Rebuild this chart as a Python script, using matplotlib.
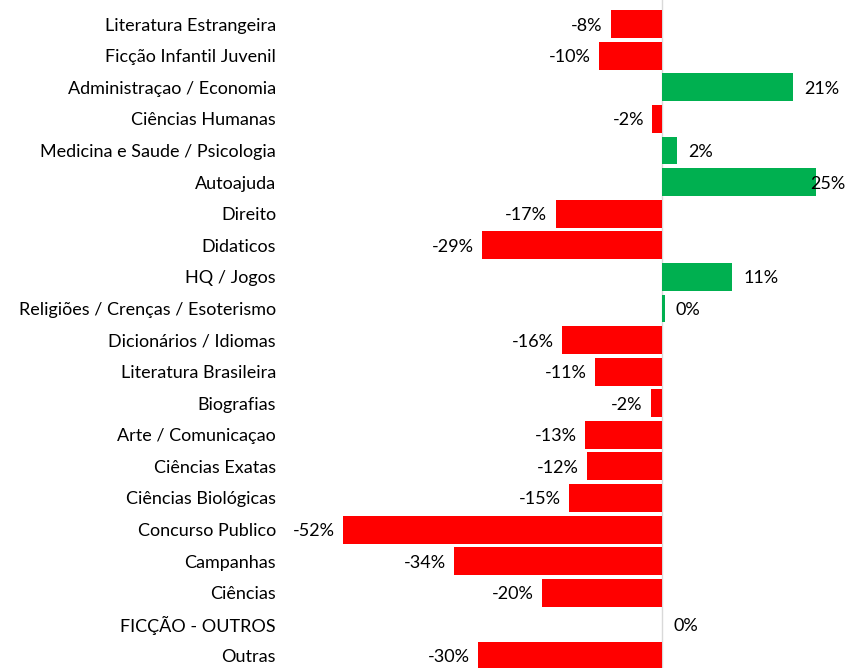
import matplotlib
matplotlib.use("Agg")
import matplotlib.pyplot as plt

plt.rcParams['font.family'] = ['Lato', 'DejaVu Sans']

categorias = [
    "Literatura Estrangeira", "Ficção Infantil Juvenil", "Administraçao / Economia",
    "Ciências Humanas", "Medicina e Saude / Psicologia", "Autoajuda", "Direito",
    "Didaticos", "HQ / Jogos", "Religiões / Crenças / Esoterismo",
    "Dicionários / Idiomas", "Literatura Brasileira", "Biografias",
    "Arte / Comunicaçao", "Ciências Exatas", "Ciências Biológicas",
    "Concurso Publico", "Campanhas", "Ciências", "FICÇÃO - OUTROS", "Outras",
]
variacao = [
    -8.4, -10.3, 21.4, -1.6, 2.4, 25.1, -17.4, -29.4, 11.4, 0.4,
    -16.3, -10.9, -1.8, -12.6, -12.2, -15.2, -52.0, -33.9, -19.6, 0.0, -30.0,
]

fs = 13

fig = plt.figure(figsize=(8.48, 6.68), dpi=100)
ax = fig.add_axes([290 / 848, 0, 558 / 848, 1])

y = list(range(len(categorias)))
cores = ["#00B050" if v > 0 else "#FF0000" for v in variacao]
ax.barh(y, variacao, height=0.88, color=cores)
ax.axvline(0, color="#d9d9d9", lw=1, zorder=0)

xmin, xmax = -60.7, 30.3
ax.set_xlim(xmin, xmax)
ax.set_ylim(20.38, -0.76)

# rótulos de valor
for yi, v in zip(y, variacao):
    txt = f"{v:.0f}%"
    if v < 0:
        ax.annotate(txt, (v, yi), xytext=(-6, 0), textcoords="offset points",
                    ha="right", va="center_baseline", fontsize=fs)
    elif v > 23:
        ax.annotate(txt, (xmax, yi), xytext=(-2, 0), textcoords="offset points",
                    ha="right", va="center_baseline", fontsize=fs)
    else:
        ax.annotate(txt, (v, yi), xytext=(8, 0), textcoords="offset points",
                    ha="left", va="center_baseline", fontsize=fs)

ax.set_yticks(y)
ax.set_yticklabels(categorias, fontsize=fs, va="center_baseline")
ax.tick_params(axis="y", length=0, pad=10)
ax.set_xticks([])
for s in ax.spines.values():
    s.set_visible(False)

fig.savefig("out.png", dpi=100)
